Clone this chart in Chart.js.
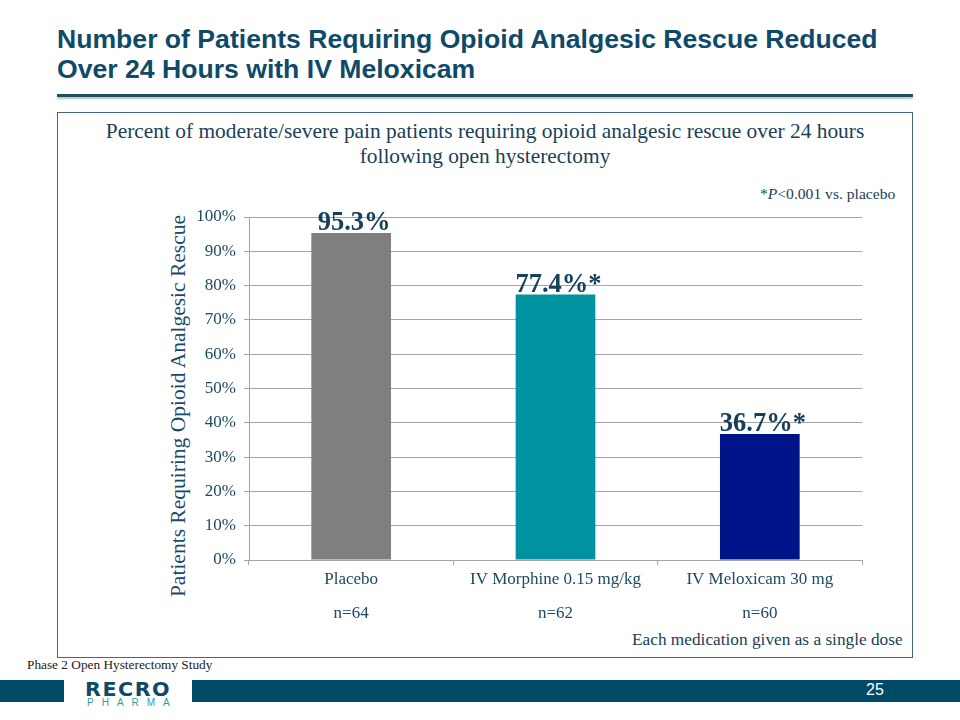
<!DOCTYPE html>
<html>
<head>
<meta charset="utf-8">
<script src="https://cdn.jsdelivr.net/npm/chart.js@4.4.1/dist/chart.umd.min.js"></script>
<style>
  html, body { margin: 0; padding: 0; background: #ffffff; }
  body { width: 960px; height: 720px; position: relative; overflow: hidden; }
  .abs { position: absolute; white-space: nowrap; }
  #title { left: 57px; top: 24px; font-family: "Liberation Sans", Arial, sans-serif; font-weight: bold; font-size: 26.6px; line-height: 30px; color: #0F4A68; }
  #rule { left: 57px; top: 94px; width: 856px; height: 3px; background: #1E4D68; box-shadow: 0 2px 2px rgba(0,0,0,0.25); }
  #frame { left: 57px; top: 112px; width: 854px; height: 544px; border: 1px solid #3E6A80; }
  #sub { left: 57px; width: 856px; top: 119px; text-align: center; font-family: "Liberation Serif", "Times New Roman", serif; font-size: 21.4px; line-height: 25px; color: #1A3F58; white-space: normal; }
  #pnote { left: 760px; top: 185px; font-family: "Liberation Serif", serif; font-size: 15.6px; color: #1A3F58; }
  #ytitle { left: 178px; top: 406px; transform: translate(-50%, -50%) rotate(-90deg); font-family: "Liberation Serif", serif; font-size: 21.5px; color: #1C4A66; }
  #single { left: 632px; top: 630px; font-family: "Liberation Serif", serif; font-size: 17.3px; color: #1A3F58; }
  #phase { left: 27px; top: 657px; font-family: "Liberation Serif", serif; font-size: 13.3px; color: #222; }
  #band { left: 0; top: 680px; width: 960px; height: 22px; background: #004B68; }
  #logobox { left: 64px; top: 676px; width: 128px; height: 44px; background: #fff; }
  #recro { left: 85px; top: 677px; font-family: "DejaVu Sans", sans-serif; font-weight: bold; font-size: 20px; letter-spacing: 1.5px; color: #0D4A68; transform-origin: 0 0; transform: scaleX(1.03); }
  #pharma { left: 87px; top: 697px; font-family: "Liberation Sans", sans-serif; font-size: 10px; letter-spacing: 8px; color: #2A9FA3; }
  #pnum { left: 866px; top: 681px; font-family: "Liberation Sans", Arial, sans-serif; font-size: 16px; color: #fff; }
  canvas#c { position: absolute; left: 0; top: 0; }
</style>
</head>
<body>
<div class="abs" id="title">Number of Patients Requiring Opioid Analgesic Rescue Reduced<br>Over 24 Hours with IV Meloxicam</div>
<div class="abs" id="rule"></div>
<div class="abs" id="frame"></div>
<div class="abs" id="sub">Percent of moderate/severe pain patients requiring opioid analgesic rescue over 24 hours<br>following open hysterectomy</div>
<div class="abs" id="pnote">*<i>P</i>&lt;0.001 vs. placebo</div>
<div class="abs" id="ytitle">Patients Requiring Opioid Analgesic Rescue</div>
<div class="abs" id="single">Each medication given as a single dose</div>
<div class="abs" id="phase">Phase 2 Open Hysterectomy Study</div>
<div class="abs" id="band"></div>
<div class="abs" id="logobox"></div>
<div class="abs" id="recro">RECRO</div>
<div class="abs" id="pharma">PHARMA</div>
<div class="abs" id="pnum">25</div>
<canvas id="c" width="960" height="720"></canvas>
<script>
const categories = ["Placebo", "IV Morphine 0.15 mg/kg", "IV Meloxicam 30 mg"];
const sampleSizes = ["n=64", "n=62", "n=60"];
const values = [95.3, 77.4, 36.7];
const valueLabels = ["95.3%", "77.4%*", "36.7%*"];
const barColors = ["#7F7F7F", "#00939F", "#001489"];
const yTicks = [0, 10, 20, 30, 40, 50, 60, 70, 80, 90, 100];

const labelPlugin = {
  id: 'valueLabels',
  afterDatasetsDraw(chart) {
    const ctx = chart.ctx;
    const meta = chart.getDatasetMeta(0);
    ctx.save();
    ctx.font = 'bold 26.5px "Liberation Serif", "Times New Roman", serif';
    ctx.fillStyle = '#17405A';
    ctx.textAlign = 'center';
    ctx.textBaseline = 'alphabetic';
    meta.data.forEach((bar, i) => {
      ctx.fillText(valueLabels[i], bar.x + 3, bar.y - 3);
    });
    ctx.restore();
  }
};

new Chart(document.getElementById('c'), {
  type: 'bar',
  data: {
    labels: categories.map((c, i) => [c, sampleSizes[i]]),
    datasets: [{
      data: values,
      backgroundColor: barColors,
      borderWidth: 0,
      categoryPercentage: 1.0,
      barPercentage: 0.39
    }]
  },
  options: {
    responsive: false,
    animation: false,
    events: [],
    layout: { padding: { left: 160, right: 98, top: 217, bottom: 80 } },
    plugins: { legend: { display: false }, tooltip: { enabled: false } },
    scales: {
      x: {
        afterFit(scale) { scale.height = 80; },
        grid: { display: true, drawOnChartArea: false, drawTicks: true, tickLength: 5, color: '#A6A6A6', offset: true },
        border: { display: true, color: '#A6A6A6', width: 1 },
        ticks: {
          color: '#1C4A60',
          padding: -2,
          font: { family: '"Liberation Serif", "Times New Roman", serif', size: 17, lineHeight: 2.0 }
        }
      },
      y: {
        min: 0, max: 100,
        afterFit(scale) { scale.width = 89; },
        afterBuildTicks(scale) { scale.ticks = yTicks.map(v => ({ value: v })); },
        grid: { color: '#A6A6A6', tickLength: 5, lineWidth: 1 },
        border: { display: true, color: '#A6A6A6', width: 1 },
        ticks: {
          color: '#1C4A60',
          padding: 8,
          font: { family: '"Liberation Serif", "Times New Roman", serif', size: 17 },
          callback: v => v + '%'
        }
      }
    }
  },
  plugins: [labelPlugin]
});
</script>
</body>
</html>
